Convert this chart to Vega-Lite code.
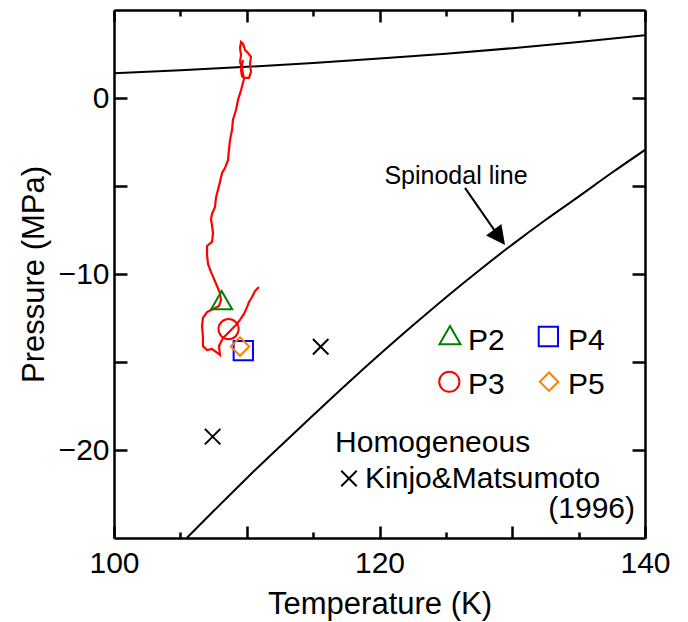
{
  "$schema": "https://vega.github.io/schema/vega-lite/v6.json",
  "width": 531,
  "height": 528,
  "autosize": {"type": "none"},
  "padding": {"left": 114, "top": 10, "right": 43, "bottom": 84},
  "background": "white",
  "config": {"view": {"stroke": null}, "font": "Liberation Sans"},
  "datasets": {
    "sat": [
      {"T": 100, "P": 1.40}, {"T": 105, "P": 1.57}, {"T": 110, "P": 1.77}, {"T": 115, "P": 1.99},
      {"T": 120, "P": 2.24}, {"T": 125, "P": 2.52}, {"T": 130, "P": 2.83}, {"T": 135, "P": 3.18}, {"T": 140, "P": 3.57}
    ],
    "spin": [
      {"T": 105.48, "P": -25.0}, {"T": 107.5, "P": -23.47}, {"T": 110, "P": -21.6}, {"T": 112.5, "P": -19.8},
      {"T": 115, "P": -18.03}, {"T": 117.5, "P": -16.28}, {"T": 120, "P": -14.58}, {"T": 122.5, "P": -12.93},
      {"T": 125, "P": -11.33}, {"T": 127.5, "P": -9.8}, {"T": 130, "P": -8.33}, {"T": 132.5, "P": -6.93},
      {"T": 135, "P": -5.6}, {"T": 137.5, "P": -4.25}, {"T": 140, "P": -2.95}
    ],
    "traj": [
      {"i": 1, "T": 109.72, "P": 2.16}, {"i": 2, "T": 109.57, "P": 1.59}, {"i": 3, "T": 109.64, "P": 1.25},
      {"i": 4, "T": 109.79, "P": 1.14}, {"i": 5, "T": 110.17, "P": 1.14}, {"i": 6, "T": 110.32, "P": 1.48},
      {"i": 7, "T": 110.24, "P": 1.93}, {"i": 8, "T": 110.32, "P": 2.33}, {"i": 9, "T": 110.09, "P": 2.56},
      {"i": 10, "T": 109.87, "P": 2.73}, {"i": 11, "T": 109.72, "P": 3.07}, {"i": 12, "T": 109.57, "P": 3.18},
      {"i": 13, "T": 109.49, "P": 2.84}, {"i": 14, "T": 109.57, "P": 2.44}, {"i": 15, "T": 109.49, "P": 2.05},
      {"i": 16, "T": 109.64, "P": 1.70}, {"i": 17, "T": 109.72, "P": 1.36}, {"i": 18, "T": 109.79, "P": 1.08},
      {"i": 19, "T": 109.57, "P": 0.45}, {"i": 20, "T": 109.34, "P": -0.11}, {"i": 21, "T": 109.19, "P": -0.68},
      {"i": 22, "T": 108.96, "P": -1.25}, {"i": 23, "T": 108.89, "P": -1.82}, {"i": 24, "T": 108.74, "P": -2.39},
      {"i": 25, "T": 108.66, "P": -2.95}, {"i": 26, "T": 108.59, "P": -3.52}, {"i": 27, "T": 108.36, "P": -3.98},
      {"i": 28, "T": 108.14, "P": -4.26}, {"i": 29, "T": 107.98, "P": -4.77}, {"i": 30, "T": 107.83, "P": -5.23},
      {"i": 31, "T": 107.68, "P": -5.68}, {"i": 32, "T": 107.61, "P": -6.19}, {"i": 33, "T": 107.38, "P": -6.59},
      {"i": 34, "T": 107.31, "P": -6.88}, {"i": 35, "T": 107.38, "P": -7.22}, {"i": 36, "T": 107.46, "P": -7.67},
      {"i": 37, "T": 107.38, "P": -8.18}, {"i": 38, "T": 107.01, "P": -8.41}, {"i": 39, "T": 107.01, "P": -8.92},
      {"i": 40, "T": 107.08, "P": -9.43}, {"i": 41, "T": 107.31, "P": -9.89}, {"i": 42, "T": 107.53, "P": -10.28},
      {"i": 43, "T": 107.76, "P": -10.68}, {"i": 44, "T": 107.98, "P": -11.08}, {"i": 45, "T": 108.06, "P": -11.48},
      {"i": 46, "T": 107.91, "P": -11.82}, {"i": 47, "T": 107.46, "P": -11.99}, {"i": 48, "T": 107.01, "P": -12.16},
      {"i": 49, "T": 106.70, "P": -12.50}, {"i": 50, "T": 106.63, "P": -12.95}, {"i": 51, "T": 106.70, "P": -13.58},
      {"i": 52, "T": 106.70, "P": -14.09}, {"i": 53, "T": 107.01, "P": -14.32}, {"i": 54, "T": 107.38, "P": -14.26},
      {"i": 55, "T": 107.68, "P": -14.43}, {"i": 56, "T": 107.98, "P": -14.60}, {"i": 57, "T": 107.91, "P": -14.09},
      {"i": 58, "T": 108.21, "P": -13.64}, {"i": 59, "T": 108.74, "P": -13.24}, {"i": 60, "T": 109.19, "P": -12.90},
      {"i": 61, "T": 109.49, "P": -12.61}, {"i": 62, "T": 109.79, "P": -12.27}, {"i": 63, "T": 110.02, "P": -11.88},
      {"i": 64, "T": 110.17, "P": -11.59}, {"i": 65, "T": 110.40, "P": -11.31}, {"i": 66, "T": 110.62, "P": -10.97},
      {"i": 67, "T": 110.92, "P": -10.74}
    ],
    "arrow": [{"T": 126.44, "P": -5.11, "T2": 129.03, "P2": -7.92}],
    "crosses": [{"T": 107.43, "P": -19.24}, {"T": 115.57, "P": -14.13}, {"T": 117.7, "P": -21.62}],
    "syms": [
      {"key": "P2", "T": 108.11, "P": -11.48}, {"key": "P3", "T": 108.63, "P": -13.13},
      {"key": "P4", "T": 109.74, "P": -14.35}, {"key": "P5", "T": 109.49, "P": -14.12},
      {"key": "P2", "T": 125.31, "P": -13.47}, {"key": "P4", "T": 132.72, "P": -13.55},
      {"key": "P3", "T": 125.26, "P": -16.12}, {"key": "P5", "T": 132.77, "P": -16.12}
    ],
    "leftText": [
      {"label": "P2", "T": 126.67, "P": -14.32}, {"label": "P4", "T": 134.2, "P": -14.32},
      {"label": "P3", "T": 126.67, "P": -16.82}, {"label": "P5", "T": 134.2, "P": -16.82},
      {"label": "Homogeneous", "T": 116.65, "P": -20.10},
      {"label": "Kinjo&Matsumoto", "T": 118.91, "P": -22.16}
    ],
    "rightText": [{"label": "(1996)", "T": 139.25, "P": -23.88}],
    "centerText": [{"label": "Spinodal line", "T": 125.76, "P": -4.89}]
  },
  "layer": [
    {
      "data": {"name": "sat"},
      "mark": {"type": "line", "color": "black", "strokeWidth": 2, "clip": true},
      "encoding": {
        "x": {
          "field": "T", "type": "quantitative",
          "scale": {"domain": [100, 140], "nice": false, "zero": false},
          "axis": {
            "orient": "bottom", "values": [100, 105, 110, 115, 120, 125, 130, 135, 140],
            "labelExpr": "datum.value % 20 === 0 ? datum.label : ''",
            "tickSize": {"condition": {"test": "datum.value % 10 === 0", "value": -12}, "value": -6},
            "tickWidth": 2.5, "tickColor": "black", "domainColor": "black", "domainWidth": 2.5,
            "labelFontSize": 30, "labelColor": "black", "labelFont": "Liberation Sans", "labelPadding": 22,
            "labelFlush": false, "labelOverlap": false, "grid": false,
            "title": "Temperature (K)", "titleFontSize": 31, "titleFontWeight": "normal", "titleColor": "black",
            "titleFont": "Liberation Sans", "titlePadding": 5
          }
        },
        "y": {
          "field": "P", "type": "quantitative",
          "scale": {"domain": [-25, 5], "nice": false, "zero": false},
          "axis": {
            "orient": "left", "values": [-20, -15, -10, -5, 0],
            "labelExpr": "datum.value % 10 === 0 ? datum.label : ''",
            "tickSize": -13, "tickWidth": 2.5, "tickColor": "black", "domainColor": "black", "domainWidth": 2.5,
            "labelFontSize": 30, "labelColor": "black", "labelFont": "Liberation Sans", "labelPadding": 18,
            "labelFlush": false, "labelOverlap": false, "grid": false,
            "title": "Pressure (MPa)", "titleFontSize": 31, "titleFontWeight": "normal", "titleColor": "black",
            "titleFont": "Liberation Sans", "titlePadding": 8
          }
        }
      }
    },
    {
      "data": {"name": "spin"},
      "mark": {"type": "line", "color": "black", "strokeWidth": 2, "clip": true, "interpolate": "monotone"},
      "encoding": {
        "x": {
          "field": "T", "type": "quantitative",
          "scale": {"domain": [100, 140], "nice": false, "zero": false},
          "axis": {
            "orient": "top", "values": [100, 105, 110, 115, 120, 125, 130, 135, 140],
            "labels": false, "title": null, "grid": false,
            "tickSize": {"condition": {"test": "datum.value % 10 === 0", "value": -12}, "value": -6},
            "tickWidth": 2.5, "tickColor": "black", "domainColor": "black", "domainWidth": 2.5
          }
        },
        "y": {
          "field": "P", "type": "quantitative",
          "scale": {"domain": [-25, 5], "nice": false, "zero": false},
          "axis": {
            "orient": "right", "values": [-20, -15, -10, -5, 0],
            "labels": false, "title": null, "grid": false,
            "tickSize": -13, "tickWidth": 2.5, "tickColor": "black", "domainColor": "black", "domainWidth": 2.5
          }
        }
      }
    },
    {
      "data": {"name": "traj"},
      "mark": {"type": "line", "color": "#ff0000", "strokeWidth": 2.2, "clip": true},
      "encoding": {
        "x": {"field": "T", "type": "quantitative", "scale": {"domain": [100, 140], "nice": false, "zero": false}, "axis": null},
        "y": {"field": "P", "type": "quantitative", "scale": {"domain": [-25, 5], "nice": false, "zero": false}, "axis": null},
        "order": {"field": "i", "type": "quantitative"}
      }
    },
    {
      "data": {"name": "arrow"},
      "mark": {"type": "rule", "color": "black", "strokeWidth": 2},
      "encoding": {
        "x": {"field": "T", "type": "quantitative", "scale": {"domain": [100, 140], "nice": false, "zero": false}, "axis": null},
        "y": {"field": "P", "type": "quantitative", "scale": {"domain": [-25, 5], "nice": false, "zero": false}, "axis": null},
        "x2": {"field": "T2"},
        "y2": {"field": "P2"}
      }
    },
    {
      "data": {"name": "arrow"},
      "mark": {"type": "point", "shape": "M0,-1L-1,1L1,1Z", "filled": true, "color": "black", "opacity": 1, "size": 361, "angle": 143.6},
      "encoding": {
        "x": {"field": "T2", "type": "quantitative", "scale": {"domain": [100, 140], "nice": false, "zero": false}, "axis": null},
        "y": {"field": "P2", "type": "quantitative", "scale": {"domain": [-25, 5], "nice": false, "zero": false}, "axis": null}
      }
    },
    {
      "data": {"name": "crosses"},
      "mark": {"type": "point", "shape": "M-1,-1L1,1M-1,1L1,-1", "filled": false, "color": "black", "opacity": 1, "strokeWidth": 2, "size": 240},
      "encoding": {
        "x": {"field": "T", "type": "quantitative", "scale": {"domain": [100, 140], "nice": false, "zero": false}, "axis": null},
        "y": {"field": "P", "type": "quantitative", "scale": {"domain": [-25, 5], "nice": false, "zero": false}, "axis": null}
      }
    },
    {
      "data": {"name": "syms"},
      "mark": {"type": "point", "filled": false, "opacity": 1, "strokeWidth": 2},
      "encoding": {
        "x": {"field": "T", "type": "quantitative", "scale": {"domain": [100, 140], "nice": false, "zero": false}, "axis": null},
        "y": {"field": "P", "type": "quantitative", "scale": {"domain": [-25, 5], "nice": false, "zero": false}, "axis": null},
        "shape": {"field": "key", "type": "nominal", "scale": {"domain": ["P2", "P3", "P4", "P5"], "range": ["triangle-up", "circle", "square", "diamond"]}, "legend": null},
        "color": {"field": "key", "type": "nominal", "scale": {"domain": ["P2", "P3", "P4", "P5"], "range": ["#008000", "#ff0000", "#0000ff", "#ff8000"]}, "legend": null},
        "size": {"field": "key", "type": "nominal", "scale": {"domain": ["P2", "P3", "P4", "P5"], "range": [440, 340, 330, 400]}, "legend": null}
      }
    },
    {
      "data": {"name": "leftText"},
      "mark": {"type": "text", "align": "left", "baseline": "alphabetic", "fontSize": 30, "font": "Liberation Sans", "color": "black"},
      "encoding": {
        "x": {"field": "T", "type": "quantitative", "scale": {"domain": [100, 140], "nice": false, "zero": false}, "axis": null},
        "y": {"field": "P", "type": "quantitative", "scale": {"domain": [-25, 5], "nice": false, "zero": false}, "axis": null},
        "text": {"field": "label"}
      }
    },
    {
      "data": {"name": "rightText"},
      "mark": {"type": "text", "align": "right", "baseline": "alphabetic", "fontSize": 30, "font": "Liberation Sans", "color": "black"},
      "encoding": {
        "x": {"field": "T", "type": "quantitative", "scale": {"domain": [100, 140], "nice": false, "zero": false}, "axis": null},
        "y": {"field": "P", "type": "quantitative", "scale": {"domain": [-25, 5], "nice": false, "zero": false}, "axis": null},
        "text": {"field": "label"}
      }
    },
    {
      "data": {"name": "centerText"},
      "mark": {"type": "text", "align": "center", "baseline": "alphabetic", "fontSize": 25, "font": "Liberation Sans", "color": "black"},
      "encoding": {
        "x": {"field": "T", "type": "quantitative", "scale": {"domain": [100, 140], "nice": false, "zero": false}, "axis": null},
        "y": {"field": "P", "type": "quantitative", "scale": {"domain": [-25, 5], "nice": false, "zero": false}, "axis": null},
        "text": {"field": "label"}
      }
    }
  ],
  "resolve": {"axis": {"x": "independent", "y": "independent"}}
}
